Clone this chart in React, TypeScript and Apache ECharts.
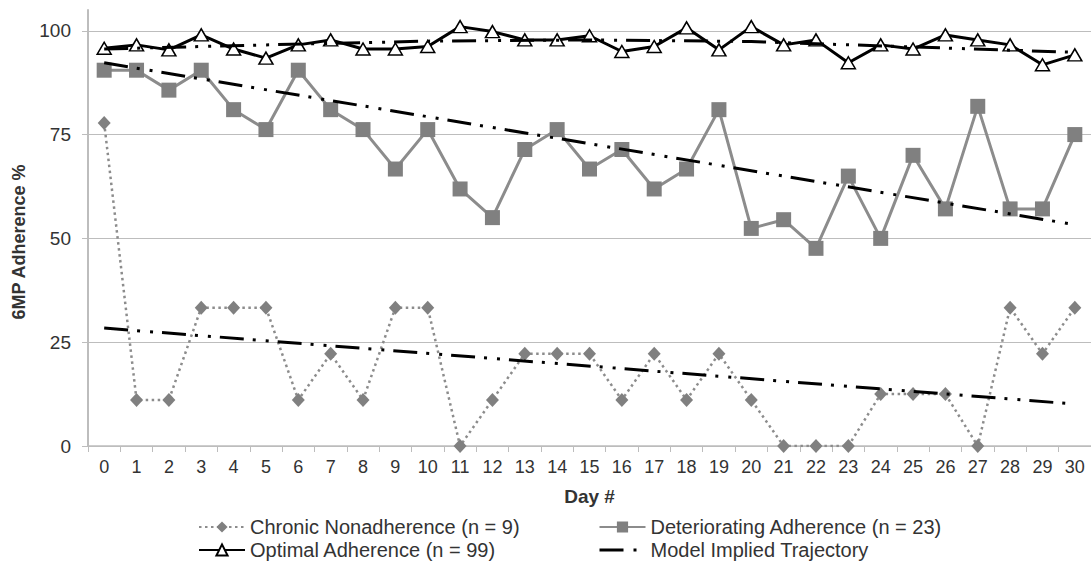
import { useEffect, useRef } from 'react';
import * as echarts from 'echarts';

const days = ['0', '1', '2', '3', '4', '5', '6', '7', '8', '9', '10', '11', '12', '13', '14', '15', '16', '17', '18', '19', '20', '21', '22', '23', '24', '25', '26', '27', '28', '29', '30'];

const chronic = [77.8, 11.1, 11.1, 33.3, 33.3, 33.3, 11.1, 22.2, 11.1, 33.3, 33.3, 0, 11.1, 22.2, 22.2, 22.2, 11.1, 22.2, 11.1, 22.2, 11.1, 0, 0, 0, 12.5, 12.5, 12.5, 0, 33.3, 22.2, 33.3];
const deteriorating = [90.5, 90.5, 85.7, 90.5, 81.0, 76.2, 90.5, 81.0, 76.2, 66.7, 76.2, 61.9, 55.0, 71.4, 76.2, 66.7, 71.4, 61.9, 66.7, 81.0, 52.4, 54.5, 47.6, 65.0, 50.0, 70.0, 57.1, 81.8, 57.1, 57.1, 75.0];
const optimal = [95.8, 96.6, 95.4, 99.0, 95.6, 93.4, 96.6, 97.8, 95.6, 95.6, 96.2, 101.0, 99.8, 97.8, 97.8, 98.8, 95.0, 96.2, 100.7, 95.4, 101.0, 96.6, 97.8, 92.3, 96.6, 95.6, 99.0, 97.8, 96.6, 91.8, 94.2];

// Model implied trajectories (read at a few days)
const chronicTrendDays = ['0', '30'];
const chronicTrendValues = [28.4, 10.1];
const deterioratingTrendDays = ['0', '30'];
const deterioratingTrendValues = [92.3, 53.3];
const optimalTrendDays = ['0', '5', '10', '15', '20', '25', '30'];
const optimalTrendValues = [95.6, 96.6, 97.5, 97.8, 97.4, 96.1, 94.8];

const yTicks = [0, 25, 50, 75, 100];

const FONT = '"Liberation Sans", Arial, Helvetica, sans-serif';
const TEXT = '#333333';
const GRID = '#bdbdbd';
const GRAY = '#808080';
const TREND_NAME = 'Model Implied Trajectory';
const trendDash = [24, 9, 3, 10, 3, 9];

function pairs(xs: string[], ys: number[]) {
  return xs.map((x, i) => [x, ys[i]]);
}

export default function App() {
  const ref = useRef<HTMLDivElement>(null);
  useEffect(() => {
    if (!ref.current) return;
    const chart = echarts.init(ref.current, undefined, { renderer: 'svg' });
    const trendSeries = (name: string, data: any[]) => ({
      name,
      type: 'line',
      data,
      symbol: 'none',
      connectNulls: true,
      z: 5,
      lineStyle: { color: '#000', width: 3, type: trendDash },
      itemStyle: { color: '#000' },
    });
    const legendCommon = {
      orient: 'vertical',
      top: 517,
      itemWidth: 46,
      itemHeight: 14,
      itemGap: 3,
      padding: 0,
      textStyle: { fontSize: 20, color: TEXT, fontFamily: FONT, lineHeight: 20 },
    };
    chart.setOption({
      animation: false,
      textStyle: { fontFamily: FONT },
      grid: { left: 88, right: 0, top: 10, bottom: 118, containLabel: false },
      legend: [
        {
          ...legendCommon,
          left: 198,
          data: ['Chronic Nonadherence (n = 9)', 'Optimal Adherence (n = 99)'],
        },
        {
          ...legendCommon,
          left: 598,
          data: [
            'Deteriorating Adherence (n = 23)',
            {
              name: TREND_NAME,
              itemStyle: { opacity: 0 },
              lineStyle: { type: [24, 10, 3, 9], width: 3, color: '#000' },
            },
          ],
        },
      ],
      xAxis: {
        type: 'category',
        data: days,
        boundaryGap: true,
        name: 'Day #',
        nameLocation: 'middle',
        nameGap: 41,
        nameTextStyle: { fontSize: 19, fontWeight: 'bold', color: TEXT, fontFamily: FONT },
        axisLine: { lineStyle: { color: GRID, width: 1.5 } },
        axisTick: { show: true, length: 6, interval: 0, lineStyle: { color: GRID } },
        axisLabel: { interval: 0, fontSize: 18, color: TEXT, margin: 12, fontFamily: FONT },
        splitLine: { show: false },
      },
      yAxis: {
        type: 'value',
        min: 0,
        max: 105,
        interval: 25,
        name: '6MP Adherence %',
        nameLocation: 'middle',
        nameGap: 60,
        nameRotate: 90,
        nameTextStyle: { fontSize: 18, fontWeight: 'bold', color: TEXT, fontFamily: FONT, padding: [0, 28, 0, 0] },
        axisLine: { show: true, lineStyle: { color: GRID, width: 2 } },
        axisTick: { show: true, length: 6, lineStyle: { color: GRID } },
        axisLabel: {
          fontSize: 19,
          color: TEXT,
          margin: 17,
          fontFamily: FONT,
          showMaxLabel: false,
          formatter: (v: number) => (yTicks.includes(v) ? String(v) : ''),
        },
        splitLine: { show: true, showMaxLine: false, lineStyle: { color: GRID, width: 1 } },
      },
      series: [
        {
          name: 'Chronic Nonadherence (n = 9)',
          type: 'line',
          data: chronic,
          symbol: 'diamond',
          symbolSize: [13, 14],
          z: 3,
          lineStyle: { color: '#8c8c8c', width: 2.5, type: [2.5, 3.5] },
          itemStyle: { color: GRAY, borderWidth: 0 },
        },
        {
          name: 'Deteriorating Adherence (n = 23)',
          type: 'line',
          data: deteriorating,
          symbol: 'rect',
          symbolSize: 15,
          z: 3,
          lineStyle: { color: '#8c8c8c', width: 3 },
          itemStyle: { color: GRAY, borderWidth: 0 },
        },
        {
          name: 'Optimal Adherence (n = 99)',
          type: 'line',
          data: optimal,
          symbol: 'triangle',
          symbolSize: [14, 12],
          z: 4,
          lineStyle: { color: '#000', width: 3 },
          itemStyle: { color: '#fff', borderColor: '#000', borderWidth: 1.5 },
        },
        trendSeries(TREND_NAME, pairs(chronicTrendDays, chronicTrendValues)),
        trendSeries(TREND_NAME, pairs(deterioratingTrendDays, deterioratingTrendValues)),
        trendSeries(TREND_NAME, pairs(optimalTrendDays, optimalTrendValues)),
      ],
    });
    return () => chart.dispose();
  }, []);
  return (
    <div
      ref={ref}
      style={{ position: 'fixed', left: 0, top: 0, width: 1091, height: 564, background: '#fff' }}
    />
  );
}
